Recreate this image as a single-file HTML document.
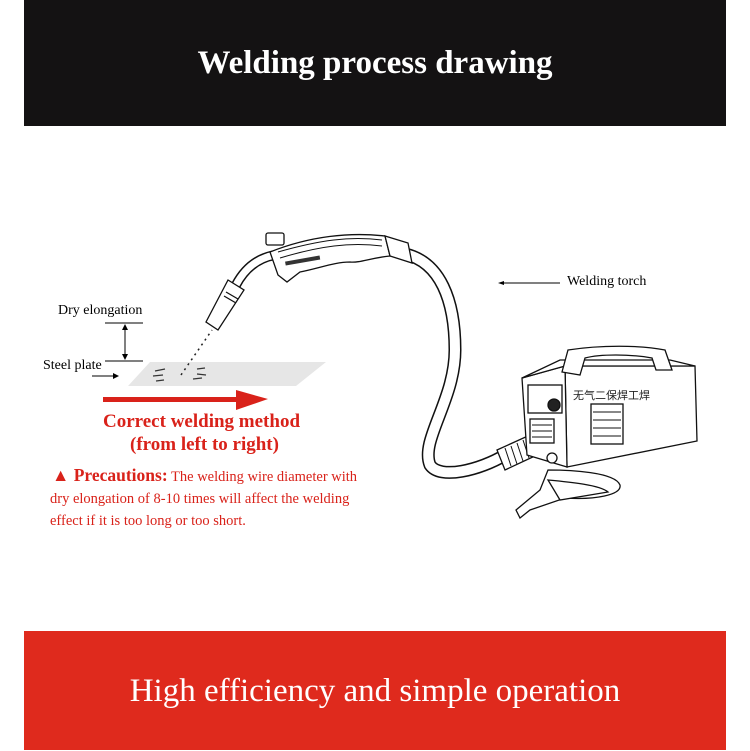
<!DOCTYPE html>
<html><head><style>
body{margin:0;width:750px;height:750px;background:#fff;position:relative;overflow:hidden;font-family:"Liberation Serif",serif}
.top{position:absolute;left:24px;top:0;width:702px;height:126px;background:#141213;color:#fff;font-weight:bold;font-size:33px;text-align:center;line-height:126px}
.bot{position:absolute;left:24px;top:631px;width:702px;height:119px;background:#df2a1d;color:#fff;font-size:33px;text-align:center;line-height:120px}
.t{position:absolute;white-space:nowrap}
</style></head><body>
<div class="top">Welding process drawing</div>
<svg width="750" height="750" style="position:absolute;left:0;top:0">
<polygon points="150,362 326,362 296,386 128,386" fill="#e6e6e6"/>
<g stroke="#333" stroke-width="1.2">
<line x1="155" y1="371" x2="165" y2="369"/><line x1="153" y1="376" x2="163" y2="375"/><line x1="156" y1="381" x2="164" y2="380"/>
<line x1="197" y1="369" x2="205" y2="368"/><line x1="197" y1="374" x2="206" y2="375"/><line x1="193" y1="379" x2="202" y2="378"/>
</g>
<line x1="181" y1="375" x2="212" y2="330" stroke="#222" stroke-width="1.5" stroke-dasharray="2,4"/>
<line x1="105" y1="323" x2="143" y2="323" stroke="#000"/>
<line x1="105" y1="361" x2="143" y2="361" stroke="#000"/>
<line x1="125" y1="326" x2="125" y2="358" stroke="#000"/>
<polygon points="125,324 122,330 128,330"/><polygon points="125,360 122,354 128,354"/>
<line x1="92" y1="376" x2="115" y2="376" stroke="#000"/><polygon points="119,376 113,373 113,379"/>
<line x1="500" y1="283" x2="560" y2="283" stroke="#000"/><polygon points="498,283 504,281 504,285"/>
<rect x="103" y="397" width="135" height="5" fill="#d9221a"/><polygon points="236,390 268,399 236,410" fill="#d9221a"/>
<path d="M405,254 C440,262 455,300 455,350 C455,400 420,440 430,465 C440,480 480,470 505,455" fill="none" stroke="#111" stroke-width="13"/>
<path d="M405,254 C440,262 455,300 455,350 C455,400 420,440 430,465 C440,480 480,470 505,455" fill="none" stroke="#fff" stroke-width="10"/>
<path d="M236,285 C245,268 258,258 275,255" fill="none" stroke="#111" stroke-width="10"/>
<path d="M236,285 C245,268 258,258 275,255" fill="none" stroke="#fff" stroke-width="7"/>
<g fill="#fff" stroke="#111" stroke-width="1.3">
<polygon points="228,280 244,290 218,330 206,322"/>
<line x1="226" y1="292" x2="238" y2="299"/><line x1="224" y1="296" x2="236" y2="303"/>
<path d="M270,252 C310,236 350,232 385,236 L390,256 C370,258 360,263 350,262 C335,262 320,268 300,272 L287,282 L278,275 Z"/>
<rect x="266" y="233" width="18" height="12" rx="2"/>
<path d="M385,236 L408,243 L412,263 L390,256 Z"/>
</g>
<path d="M278,252 C320,240 350,236 382,240" fill="none" stroke="#111"/>
<path d="M280,258 C320,246 350,242 382,246" fill="none" stroke="#111"/>
<rect x="285" y="259" width="35" height="4" fill="#333" transform="rotate(-10 300 260)"/>
<polygon points="497,450 530,435 537,455 505,470" fill="#fff" stroke="#111" stroke-width="1.3"/>
<g stroke="#111"><line x1="505" y1="448" x2="511" y2="466"/><line x1="511" y1="446" x2="517" y2="464"/><line x1="517" y1="443" x2="523" y2="461"/><line x1="523" y1="440" x2="529" y2="458"/></g>
<g fill="#fff" stroke="#111" stroke-width="1.3">
<polygon points="565,366 695,366 697,441 567,467"/>
<polygon points="522,378 565,366 567,467 527,455"/>
<polygon points="522,378 565,366 695,366 670,360 560,360"/>
<path d="M562,372 L568,350 C600,345 640,345 665,350 L672,370 L656,370 L652,358 C630,354 600,354 585,358 L580,375 Z"/>
<rect x="528" y="385" width="34" height="28" fill="#fff"/>
<circle cx="554" cy="405" r="6" fill="#222"/>
<rect x="530" y="419" width="24" height="24"/>
<rect x="591" y="404" width="32" height="40"/>
</g>
<g stroke="#111"><line x1="593" y1="412" x2="621" y2="412"/><line x1="593" y1="420" x2="621" y2="420"/><line x1="593" y1="428" x2="621" y2="428"/><line x1="593" y1="436" x2="621" y2="436"/>
<line x1="532" y1="425" x2="552" y2="425"/><line x1="532" y1="431" x2="552" y2="431"/><line x1="532" y1="437" x2="552" y2="437"/></g>
<g fill="#fff" stroke="#111" stroke-width="1.3">
<path d="M548,470 C570,470 615,472 620,485 C622,495 595,500 565,498 L530,510 L520,518 L516,510 L540,490 Z"/>
<path d="M548,480 C570,482 600,485 608,492 L560,500 Z"/>
<circle cx="552" cy="458" r="5"/>
</g>
</svg>
<div class="t" style="left:58px;top:303px;font-size:14px">Dry elongation</div>
<div class="t" style="left:43px;top:358px;font-size:14px">Steel plate</div>
<div class="t" style="left:567px;top:274px;font-size:14px">Welding torch</div>
<div class="t" style="left:573px;top:387px;font-size:11px;font-family:'Noto Sans CJK SC',sans-serif;color:#222">无气二保焊工焊</div>
<div class="t" style="left:103px;top:411px;font-size:19px;font-weight:bold;color:#d9221a">Correct welding method</div>
<div class="t" style="left:130px;top:434px;font-size:19px;font-weight:bold;color:#d9221a">(from left to right)</div>
<div class="t" style="left:52px;top:465px;font-size:14.5px;color:#d9221a"><b style="font-size:17.5px">▲ Precautions:</b> The welding wire diameter with</div>
<div class="t" style="left:50px;top:491px;font-size:14.5px;color:#d9221a">dry elongation of 8-10 times will affect the welding</div>
<div class="t" style="left:50px;top:513px;font-size:14.5px;color:#d9221a">effect if it is too long or too short.</div>
<div class="bot">High efficiency and simple operation</div>
</body></html>
